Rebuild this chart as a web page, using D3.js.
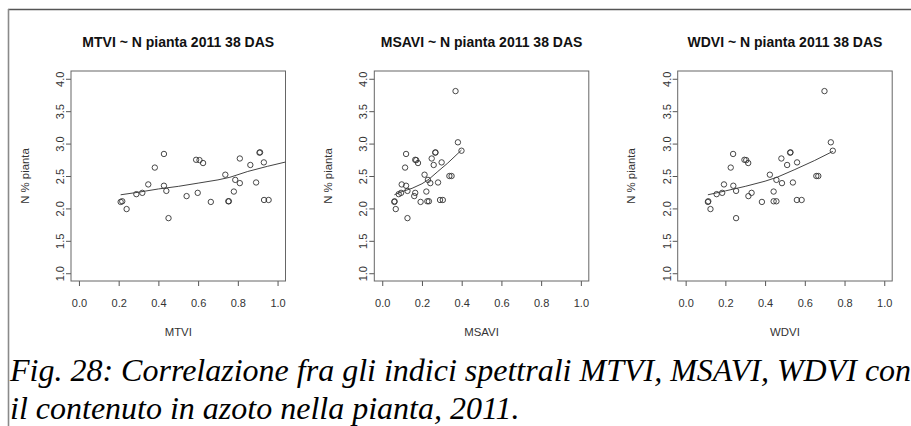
<!DOCTYPE html>
<html>
<head>
<meta charset="utf-8">
<script src="https://cdn.jsdelivr.net/npm/d3@7"></script>
<style>
  html, body { margin: 0; padding: 0; background: #fff; }
  svg { display: block; }
  .tick text { font-family: "Liberation Sans", Arial, sans-serif; }
</style>
</head>
<body>
<svg id="fig" width="911" height="426"></svg>
<script>
// Plant nitrogen content (%) for each sampled plot, 2011, 38 DAS
const nPianta = [2.10, 2.11, 1.99, 2.22, 2.24, 2.37, 2.63, 2.84, 2.35, 2.27, 1.85, 2.19,
                 2.24, 2.75, 2.745, 2.70, 2.10, 2.52, 2.11, 2.11, 2.26, 2.44, 2.77, 2.39,
                 2.67, 2.86, 2.865, 2.40, 2.71, 2.13, 2.13, 2.50, 2.50, 3.81, 3.02, 2.89];

// Spectral index values for the same plots (null = beyond the plotted 0–1 range)
const mtvi  = [0.210, 0.218, 0.240, 0.289, 0.319, 0.349, 0.382, 0.428, 0.428, 0.440, 0.451, 0.542,
               0.598, 0.590, 0.607, 0.625, 0.664, 0.737, 0.752, 0.755, 0.780, 0.787, 0.810, 0.810,
               0.863, 0.909, 0.912, 0.892, 0.931, 0.932, 0.955, null, null, null, null, null];
const msavi = [0.061, 0.062, 0.068, 0.083, 0.095, 0.098, 0.115, 0.120, 0.120, 0.127, 0.127, 0.161,
               0.166, 0.166, 0.171, 0.180, 0.193, 0.213, 0.227, 0.235, 0.222, 0.230, 0.249, 0.242,
               0.259, 0.267, 0.268, 0.281, 0.299, 0.291, 0.305, 0.338, 0.349, 0.369, 0.381, 0.399];
const wdvi  = [0.112, 0.114, 0.125, 0.156, 0.184, 0.193, 0.227, 0.239, 0.240, 0.254, 0.254, 0.316,
               0.332, 0.296, 0.305, 0.315, 0.384, 0.424, 0.443, 0.457, 0.443, 0.457, 0.482, 0.485,
               0.511, 0.526, 0.528, 0.540, 0.561, 0.560, 0.584, 0.658, 0.668, 0.699, 0.731, 0.741];

// Smoothed (lowess) trend vertices for each index
const mtviFitX  = [0.210, 0.300, 0.400, 0.500, 0.600, 0.700, 0.760, 0.850, 0.950, 1.060];
const mtviFitY  = [2.210, 2.250, 2.300, 2.340, 2.390, 2.440, 2.480, 2.570, 2.650, 2.730];
const msaviFitX = [0.061, 0.100, 0.150, 0.200, 0.235, 0.280, 0.330, 0.399];
const msaviFitY = [2.210, 2.260, 2.310, 2.380, 2.450, 2.570, 2.700, 2.900];
const wdviFitX  = [0.112, 0.200, 0.300, 0.400, 0.460, 0.550, 0.650, 0.741];
const wdviFitY  = [2.210, 2.270, 2.340, 2.420, 2.480, 2.600, 2.740, 2.880];

// Axis settings
const xTicks = [0.0, 0.2, 0.4, 0.6, 0.8, 1.0];
const yTicks = [1.0, 1.5, 2.0, 2.5, 3.0, 3.5, 4.0];
const xLimits = [0, 1];
const yLimits = [1, 4];

const indexNames  = ["MTVI", "MSAVI", "WDVI"];
const panelTitles = ["MTVI ~ N pianta 2011 38 DAS", "MSAVI ~ N pianta 2011 38 DAS", "WDVI ~ N pianta 2011 38 DAS"];
const yTitle = "N % pianta";
const captionLines = [
  "Fig. 28: Correlazione fra gli indici spettrali MTVI, MSAVI, WDVI con",
  "il contenuto in azoto nella pianta, 2011."
];

const series = [
  { x: mtvi,  fitX: mtviFitX,  fitY: mtviFitY },
  { x: msavi, fitX: msaviFitX, fitY: msaviFitY },
  { x: wdvi,  fitX: wdviFitX,  fitY: wdviFitY }
];

const svg = d3.select("#fig");
const sans = "'Liberation Sans', Arial, Helvetica, sans-serif";

// Frame around the figure
svg.append("line").attr("x1", 8).attr("x2", 911).attr("y1", 9.5).attr("y2", 9.5)
  .attr("stroke", "#555").attr("stroke-width", 1.4);
svg.append("line").attr("x1", 8.5).attr("x2", 8.5).attr("y1", 9).attr("y2", 426)
  .attr("stroke", "#8a8a8a").attr("stroke-width", 1.6);

// Panel geometry
const boxTop = 71, boxBottom = 281, boxW = 214.5;
const boxLefts = [71, 374.3, 677.7];

// R-style 4% axis extension
const ext = (lim) => { const r = lim[1] - lim[0]; return [lim[0] - 0.04 * r, lim[1] + 0.04 * r]; };

series.forEach((s, i) => {
  const left = boxLefts[i];
  const x = d3.scaleLinear().domain(ext(xLimits)).range([left, left + boxW]);
  const y = d3.scaleLinear().domain(ext(yLimits)).range([boxBottom, boxTop]);
  const g = svg.append("g");
  const cx = left + boxW / 2;

  const clipId = "clip" + i;
  svg.append("clipPath").attr("id", clipId).append("rect")
    .attr("x", left).attr("y", boxTop).attr("width", boxW).attr("height", boxBottom - boxTop);

  // Title
  g.append("text").attr("x", cx).attr("y", 46.5).attr("text-anchor", "middle")
    .attr("font-family", sans).attr("font-weight", "bold").attr("font-size", 14)
    .attr("fill", "#111").text(panelTitles[i]);

  // X axis
  const xa = g.append("g").attr("transform", `translate(0,${boxBottom})`)
    .call(d3.axisBottom(x).tickValues(xTicks).tickFormat(d3.format(".1f")).tickSize(5).tickPadding(0));
  xa.select(".domain").remove();
  xa.selectAll(".tick line").attr("stroke", "#555");
  xa.selectAll(".tick text").attr("dy", 0).attr("y", 25.5).attr("font-size", 11).attr("fill", "#333");

  // Y axis (labels parallel to the axis)
  const ya = g.append("g").attr("transform", `translate(${left},0)`)
    .call(d3.axisLeft(y).tickValues(yTicks).tickFormat(d3.format(".1f")).tickSize(5));
  ya.select(".domain").remove();
  ya.selectAll(".tick line").attr("stroke", "#555");
  ya.selectAll(".tick text").attr("x", null).attr("dy", null)
    .attr("transform", "translate(-7,0) rotate(-90)")
    .attr("text-anchor", "middle").attr("font-size", 11).attr("fill", "#333");

  // Axis titles
  g.append("text").attr("x", cx).attr("y", 336).attr("text-anchor", "middle")
    .attr("font-family", sans).attr("font-size", 11.4).attr("fill", "#333").text(indexNames[i]);
  g.append("text").attr("transform", `translate(${left - 42.5},${(boxTop + boxBottom) / 2}) rotate(-90)`)
    .attr("text-anchor", "middle").attr("font-family", sans).attr("font-size", 11.4)
    .attr("fill", "#333").text(yTitle);

  // Plot box
  g.append("rect").attr("x", left).attr("y", boxTop).attr("width", boxW).attr("height", boxBottom - boxTop)
    .attr("fill", "none").attr("stroke", "#666").attr("stroke-width", 1);

  // Points
  const pts = nPianta.map((v, k) => ({ xv: s.x[k], yv: v })).filter(d => d.xv !== null);
  g.append("g").attr("clip-path", `url(#${clipId})`)
    .selectAll("circle").data(pts).join("circle")
    .attr("cx", d => x(d.xv)).attr("cy", d => y(d.yv)).attr("r", 2.7)
    .attr("fill", "none").attr("stroke", "#333").attr("stroke-width", 0.9);

  // Trend line
  const fit = s.fitX.map((v, k) => [v, s.fitY[k]]);
  g.append("path").attr("clip-path", `url(#${clipId})`)
    .datum(fit)
    .attr("d", d3.line().x(d => x(d[0])).y(d => y(d[1])))
    .attr("fill", "none").attr("stroke", "#444").attr("stroke-width", 1);
});

// Figure caption
const cap = svg.append("text").attr("font-family", "'Liberation Serif', 'Times New Roman', serif")
  .attr("font-style", "italic").attr("font-size", 32).attr("fill", "#000");
captionLines.forEach((t, k) => {
  cap.append("tspan").attr("x", 10).attr("y", k === 0 ? 381 : 419).text(t);
});
</script>
</body>
</html>
